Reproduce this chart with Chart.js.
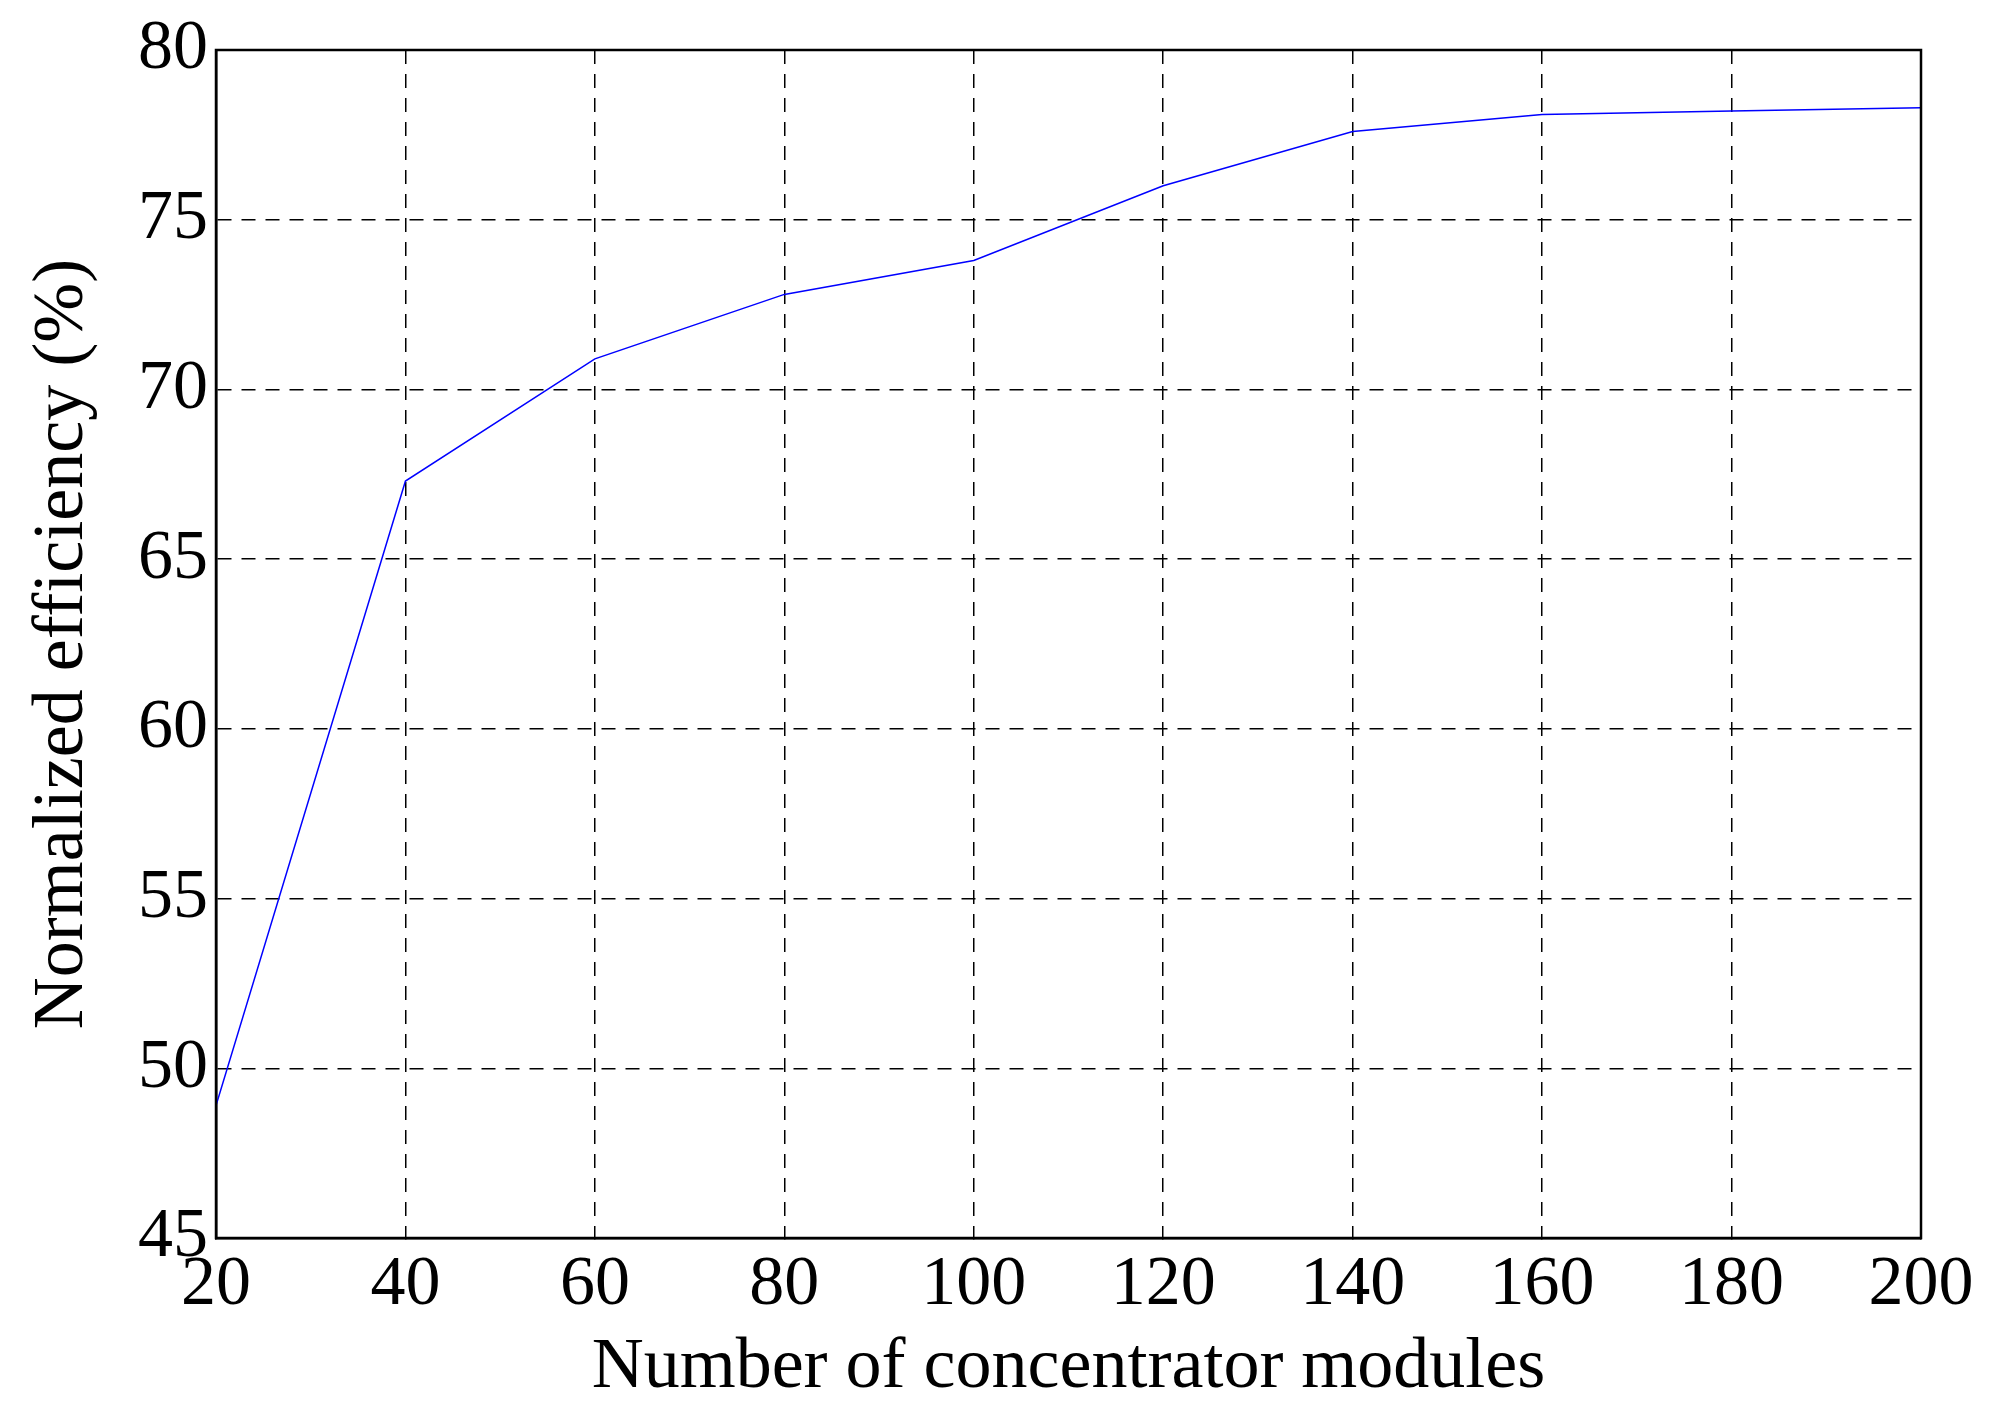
<!DOCTYPE html>
<html>
<head>
<meta charset="utf-8">
<script src="https://cdn.jsdelivr.net/npm/chart.js@4"></script>
<style>
  html, body { margin: 0; padding: 0; background: #fff; }
  #wrap { width: 1990px; height: 1415px; }
</style>
</head>
<body>
<div id="wrap"><canvas id="c" width="1990" height="1415"></canvas></div>
<script>
const modules = [20, 40, 60, 80, 100, 120, 140, 160, 180, 200];
const efficiency = [48.9, 67.3, 70.9, 72.8, 73.8, 76.0, 77.6, 78.1, 78.2, 78.3];

const family = '"Liberation Serif", "Times New Roman", serif';
const font = { family, size: 70 };

// full box around the plot area
const frame = {
  id: 'frame',
  afterDraw(chart) {
    const { ctx, chartArea: a } = chart;
    ctx.save();
    ctx.strokeStyle = '#000';
    ctx.lineWidth = 2.5;
    ctx.strokeRect(a.left, a.top, a.right - a.left, a.bottom - a.top);
    ctx.restore();
  }
};

const ctx = document.getElementById('c').getContext('2d');
new Chart(ctx, {
  type: 'line',
  data: {
    datasets: [{
      data: modules.map((x, i) => ({ x, y: efficiency[i] })),
      borderColor: '#0000ff',
      borderWidth: 1.5,
      pointRadius: 0,
      tension: 0
    }]
  },
  options: {
    responsive: false,
    animation: false,
    layout: { padding: { top: 42, right: 69, left: 0, bottom: 0 } },
    plugins: { legend: { display: false }, tooltip: { enabled: false } },
    scales: {
      x: {
        type: 'linear', min: 20, max: 200,
        afterFit: s => { s.height = 177; },
        ticks: { stepSize: 20, color: '#000', font, padding: 6 },
        grid: { color: '#000', lineWidth: 1.5, tickLength: 0 },
        border: { display: true, color: '#000', width: 2.5, dash: [14, 10] },
        title: { display: true, text: 'Number of concentrator modules', color: '#000',
                 font: { family, size: 72 }, padding: { top: -14 } }
      },
      y: {
        min: 45, max: 80,
        afterFit: s => { s.width = 216; },
        ticks: { stepSize: 5, color: '#000', font, padding: 8 },
        grid: { color: '#000', lineWidth: 1.5, tickLength: 0 },
        border: { display: true, color: '#000', width: 2.5, dash: [14, 10] },
        title: { display: true, text: 'Normalized efficiency (%)', color: '#000',
                 font: { family, size: 72 }, padding: { top: 20, bottom: 0 } }
      }
    }
  },
  plugins: [frame]
});
</script>
</body>
</html>
